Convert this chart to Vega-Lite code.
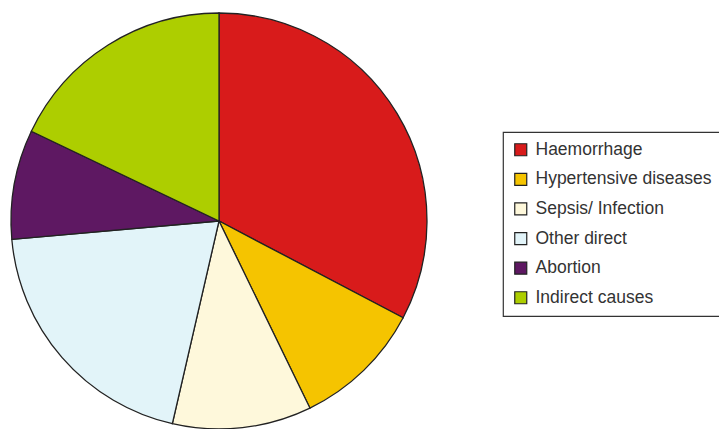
{
  "$schema": "https://vega.github.io/schema/vega-lite/v6.json",
  "width": 438,
  "height": 442,
  "padding": 0,
  "background": "white",
  "data": {
    "values": [
      {"cause": "Haemorrhage", "share": 32.7, "rank": 1},
      {"cause": "Hypertensive diseases", "share": 10.1, "rank": 2},
      {"cause": "Sepsis/ Infection", "share": 10.8, "rank": 3},
      {"cause": "Other direct", "share": 20.0, "rank": 4},
      {"cause": "Abortion", "share": 8.5, "rank": 5},
      {"cause": "Indirect causes", "share": 17.9, "rank": 6}
    ]
  },
  "mark": {"type": "arc", "outerRadius": 208, "stroke": "#222222", "strokeWidth": 1.3},
  "encoding": {
    "theta": {"field": "share", "type": "quantitative", "stack": true},
    "order": {"field": "rank", "type": "quantitative", "sort": "ascending"},
    "color": {
      "field": "cause",
      "type": "nominal",
      "sort": ["Haemorrhage", "Hypertensive diseases", "Sepsis/ Infection", "Other direct", "Abortion", "Indirect causes"],
      "scale": {
        "domain": ["Haemorrhage", "Hypertensive diseases", "Sepsis/ Infection", "Other direct", "Abortion", "Indirect causes"],
        "range": ["#D81B1B", "#F5C400", "#FEF8DB", "#E2F4F9", "#5E1862", "#ADCE00"]
      },
      "legend": {
        "title": null,
        "orient": "none",
        "legendX": 503,
        "legendY": 132,
        "symbolType": "square",
        "symbolSize": 144,
        "symbolStrokeColor": "#222222",
        "symbolStrokeWidth": 1.2,
        "symbolOpacity": 1,
        "labelFont": "Liberation Sans",
        "labelFontSize": 17.5,
        "labelColor": "#333333",
        "labelOffset": 6,
        "labelLimit": 300,
        "rowPadding": 10.6,
        "padding": 9,
        "strokeColor": "#333333"
      }
    }
  },
  "config": {"view": {"stroke": null}, "legend": {"strokeWidth": 1.2}}
}
